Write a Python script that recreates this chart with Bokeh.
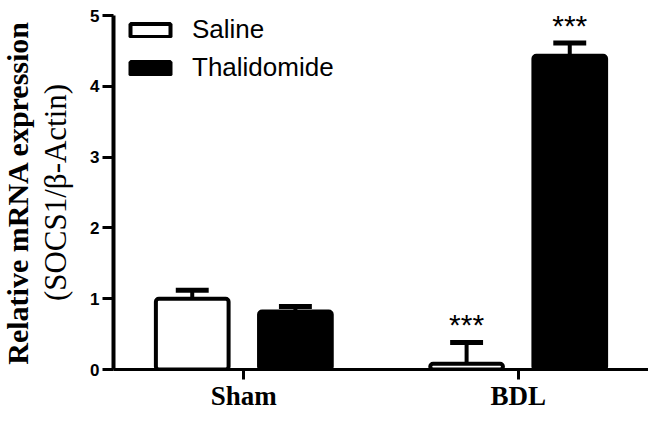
from bokeh.plotting import figure
from bokeh.models import ColumnDataSource, FactorRange, Range1d, FixedTicker, Legend, LegendItem, Title
from bokeh.transform import dodge
from bokeh.core.properties import value
from bokeh.embed import file_html
from bokeh.resources import INLINE

categories = ["Sham", "BDL"]
saline = [1.00, 0.08]
saline_err = [0.12, 0.30]
thalidomide = [0.82, 4.43]
thalidomide_err = [0.07, 0.18]
saline_sig = ["", "***"]
thalidomide_sig = ["", "***"]
y_ticks = [0, 1, 2, 3, 4, 5]

source = ColumnDataSource(dict(
    cat=categories,
    saline=saline,
    saline_hi=[v + e for v, e in zip(saline, saline_err)],
    thal=thalidomide,
    thal_hi=[v + e for v, e in zip(thalidomide, thalidomide_err)],
    saline_sig=saline_sig,
    thal_sig=thalidomide_sig,
))

p = figure(x_range=FactorRange(factors=categories, range_padding=-0.025),
           y_range=Range1d(0, 5),
           width=648, height=413, output_backend="svg", toolbar_location=None,
           min_border_top=15, min_border_bottom=0, min_border_left=110, min_border_right=0)

OFF = 0.188
BW = 0.265
CAP = 0.06

r1 = p.vbar(x=dodge("cat", -OFF, range=p.x_range), top="saline", width=BW, source=source,
            fill_color="white", line_color="black", line_width=4, border_radius=3)
r2 = p.vbar(x=dodge("cat", OFF, range=p.x_range), top="thal", width=BW, source=source,
            fill_color="black", line_color="black", line_width=4, border_radius=3)

for off, lo, hi, sig in [(-OFF, "saline", "saline_hi", "saline_sig"), (OFF, "thal", "thal_hi", "thal_sig")]:
    p.segment(x0=dodge("cat", off, range=p.x_range), y0=lo, x1=dodge("cat", off, range=p.x_range), y1=hi,
              source=source, line_color="black", line_width=4)
    p.segment(x0=dodge("cat", off - CAP, range=p.x_range), y0=hi, x1=dodge("cat", off + CAP, range=p.x_range), y1=hi,
              source=source, line_color="black", line_width=5)
    p.text(x=dodge("cat", off, range=p.x_range), y=hi, text=sig, source=source,
           text_align="center", text_baseline="middle", y_offset=-18,
           text_font=value("Liberation Sans"), text_font_size="30px", text_color="black")

legend = Legend(items=[LegendItem(label="Saline", renderers=[r1]),
                       LegendItem(label="Thalidomide", renderers=[r2])],
                location=(12, 286), glyph_width=50, glyph_height=16,
                label_text_font="Liberation Sans", label_text_font_size="26px",
                label_text_color="black",
                label_standoff=17, spacing=7, padding=0, margin=0,
                border_line_alpha=0, background_fill_alpha=0)
p.add_layout(legend)

p.xgrid.visible = False
p.ygrid.visible = False
p.outline_line_color = None

p.yaxis.ticker = FixedTicker(ticks=y_ticks)
for ax in (p.xaxis, p.yaxis):
    ax.axis_line_color = "black"
    ax.major_tick_line_width = 3
    ax.major_tick_line_color = "black"
    ax.major_tick_in = 0
    ax.minor_tick_out = 0
    ax.minor_tick_in = 0
    ax.major_label_text_color = "black"

p.yaxis.axis_line_width = 4
p.xaxis.axis_line_width = 3
p.yaxis.major_tick_out = 11
p.yaxis.major_label_standoff = 3
p.xaxis.major_tick_out = 10
p.xaxis.major_label_standoff = 1

p.yaxis.major_label_text_font = "Liberation Sans"
p.yaxis.major_label_text_font_style = "bold"
p.yaxis.major_label_text_font_size = "17px"
p.xaxis.major_label_text_font = "Liberation Serif"
p.xaxis.major_label_text_font_style = "bold"
p.xaxis.major_label_text_font_size = "27px"

p.yaxis.axis_label = "(SOCS1/β-Actin)"
p.yaxis.axis_label_text_font = "Liberation Serif"
p.yaxis.axis_label_text_font_style = "normal"
p.yaxis.axis_label_text_font_size = "31px"
p.yaxis.axis_label_text_color = "black"
p.yaxis.axis_label_standoff = 14

p.add_layout(Title(text="Relative mRNA expression", align="center", vertical_align="top",
                   text_font="Liberation Serif", text_font_style="bold", text_font_size="30px",
                   text_color="black", standoff=0), "left")

open("out.html", "w").write(file_html(p, INLINE))
